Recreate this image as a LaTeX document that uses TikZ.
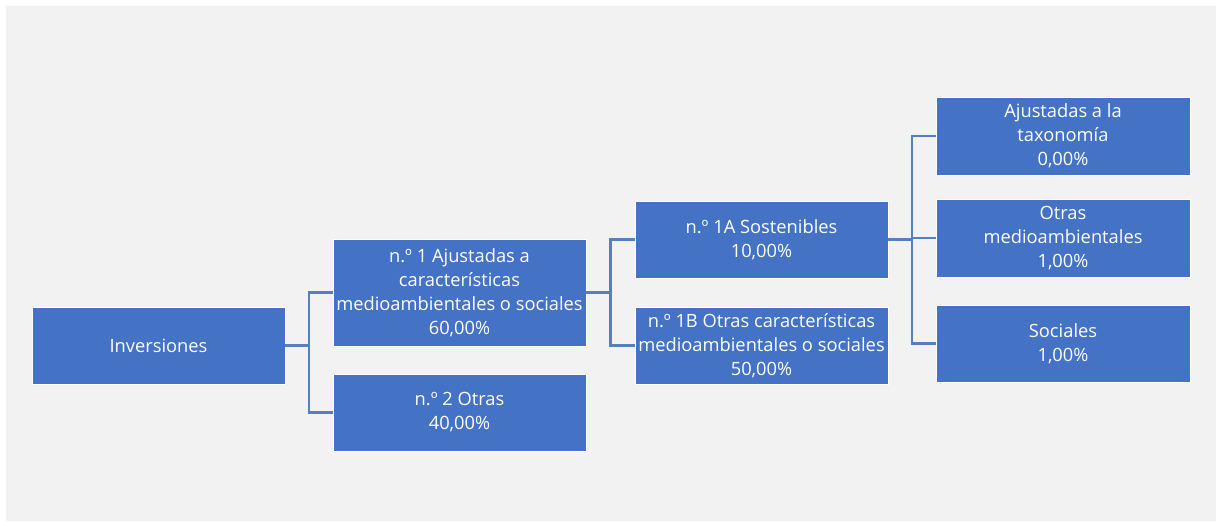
\documentclass[tikz,border=0pt]{standalone}
\usepackage{fontspec}
\setmainfont{Open Sans}
\definecolor{bg}{RGB}{242,242,242}
\definecolor{boxblue}{RGB}{68,114,196}
\definecolor{linkblue}{RGB}{82,130,190}
\begin{document}
\begin{tikzpicture}[x=1pt,y=-1pt,
  box/.style={draw=white,line width=0.6pt,fill=boxblue,text=white,
    inner sep=0pt,align=center,font=\fontsize{18.3}{24}\selectfont},
  link/.style={draw=linkblue,line width=2.6pt}]
\fill[white] (0,0) rectangle (1221,522);
\fill[bg] (6,6) rectangle (1216,521);
\useasboundingbox (0,0) rectangle (1221,522);
% nodes
\node[box,minimum width=253pt,minimum height=77pt] (inv) at (158.5,345.5) {Inversiones};
\node[box,minimum width=253pt,minimum height=107pt] (n1) at (459.5,292.5) {n.º 1 Ajustadas a\\características\\medioambientales o sociales\\60,00\%};
\node[box,minimum width=253pt,minimum height=77pt] (n2) at (459.5,412.5) {n.º 2 Otras\\40,00\%};
\node[box,minimum width=253pt,minimum height=77pt] (n1a) at (761.5,239.5) {n.º 1A Sostenibles\\10,00\%};
\node[box,minimum width=253pt,minimum height=77pt] (n1b) at (761.5,345.5) {n.º 1B Otras características\\medioambientales o sociales\\50,00\%};
\node[box,minimum width=254pt,minimum height=78pt] (tax) at (1063,136) {Ajustadas a la\\taxonomía\\0,00\%};
\node[box,minimum width=254pt,minimum height=78pt] (oma) at (1063,238) {Otras\\medioambientales\\1,00\%};
\node[box,minimum width=254pt,minimum height=77pt] (soc) at (1063,343.5) {Sociales\\1,00\%};
% connectors
\coordinate (j1) at (309,0);
\coordinate (j2) at (610.5,0);
\coordinate (j3) at (912,0);
\draw[link] (inv.east) -- (inv.east -| j1);
\draw[link] (n1.west) -| (j1 |- n2.west) -- (n2.west);
\draw[link] (n1.east) -- (n1.east -| j2);
\draw[link] (n1a.west) -| (j2 |- n1b.west) -- (n1b.west);
\draw[link] (n1a.east) -- (n1a.east -| j3);
\draw[link] (tax.west) -| (j3 |- soc.west) -- (soc.west);
\draw[link] (j3 |- oma.west) -- (oma.west);
\end{tikzpicture}
\end{document}
